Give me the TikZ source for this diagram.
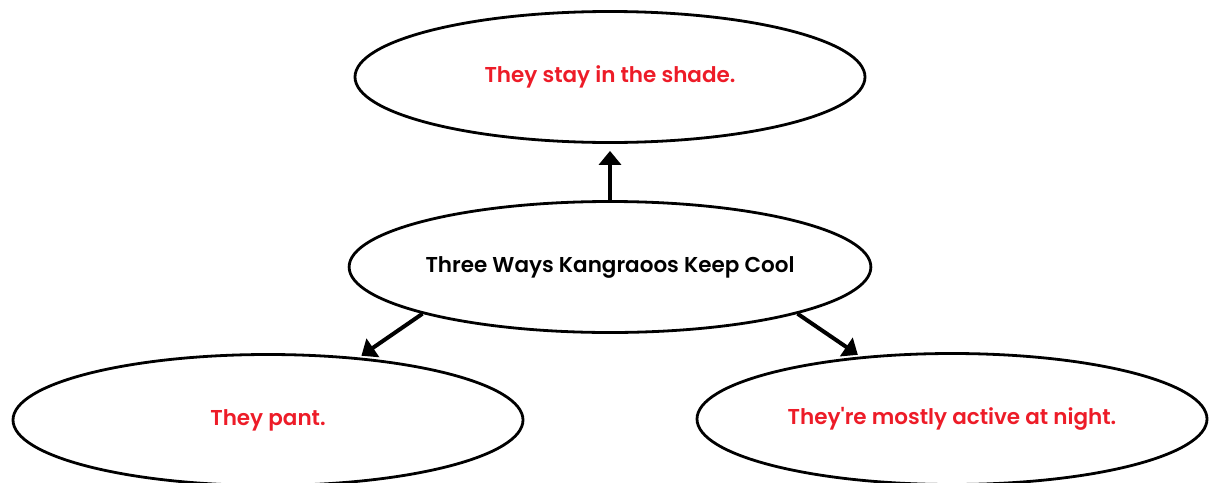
\documentclass[tikz,border=0pt]{standalone}
\usepackage{fontspec}
\setmainfont{Poppins}[BoldFont={Poppins SemiBold}]
\usepackage{tikz}
\usetikzlibrary{arrows.meta, positioning, shapes.geometric}
\definecolor{tipred}{RGB}{237, 28, 40}

\begin{document}
\begin{tikzpicture}[x=1pt, y=-1pt,
  bubble/.style={draw, ellipse, line width=2.8pt, minimum width=510pt, minimum height=131pt, inner sep=0pt, font=\fontsize{21.5}{24}\selectfont\bfseries},
  link/.style={-{Triangle[length=14pt, width=22pt]}, line width=4pt}]
\useasboundingbox (0,0) rectangle (1212,482);
\node[bubble, text=tipred] (shade) at (610,77) {They stay in the shade.};
\node[bubble] (ways) at (610,267) {Three Ways Kangraoos Keep Cool};
\node[bubble, text=tipred] (pant) at (268,420) {They pant.};
\node[bubble, text=tipred] (night) at (952,419) {They\textquotesingle re mostly active at night.};
\draw[link, shorten >=7pt] (ways) -- (shade);
\draw[link, shorten >=3pt] (ways.194) -- (pant);
\draw[link, shorten >=3pt] (ways.-14) -- (night);
\end{tikzpicture}
\end{document}
